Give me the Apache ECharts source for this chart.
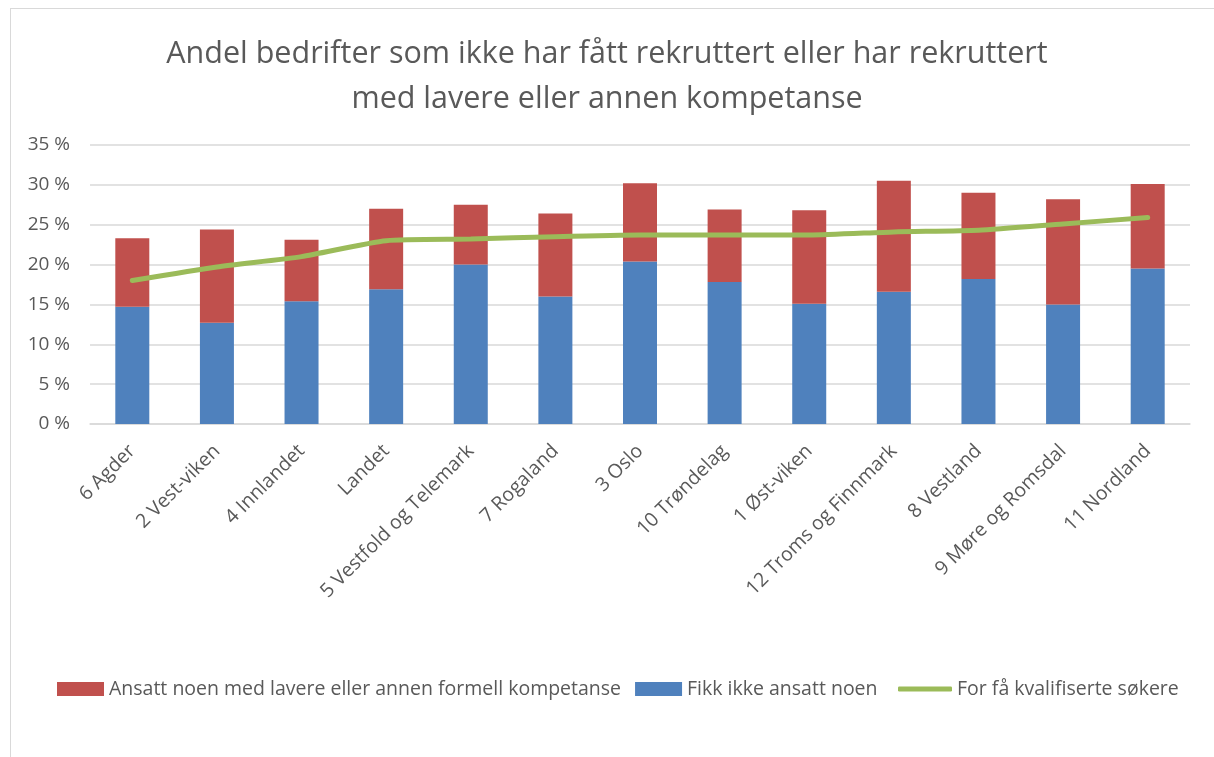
<!DOCTYPE html>
<html>
<head>
<meta charset="utf-8">
<script src="https://cdn.jsdelivr.net/npm/echarts@6/dist/echarts.min.js"></script>
<style>
  html, body { margin: 0; padding: 0; background: #fff; }
  #wrap { position: relative; width: 1214px; height: 757px; overflow: hidden; }
  #frame { position: absolute; left: 10px; top: 8px; width: 1230px; height: 780px;
           border: 1.5px solid #d9d9d9; pointer-events: none; }
  #chart { position: absolute; left: 0; top: 0; width: 1214px; height: 757px; }
</style>
</head>
<body>
<div id="wrap">
  <div id="chart"></div>
  <div id="frame"></div>
</div>
<script>
  const regions = ['6 Agder', '2 Vest-viken', '4 Innlandet', 'Landet', '5 Vestfold og Telemark',
    '7 Rogaland', '3 Oslo', '10 Trøndelag', '1 Øst-viken', '12 Troms og Finnmark',
    '8 Vestland', '9 Møre og Romsdal', '11 Nordland'];
  // andel i prosent
  const lavereKompetanse = [8.6, 11.7, 7.7, 10.1, 7.5, 10.4, 9.8, 9.1, 11.7, 13.9, 10.8, 13.2, 10.6];
  const ikkeAnsatt = [14.7, 12.7, 15.4, 16.9, 20.0, 16.0, 20.4, 17.8, 15.1, 16.6, 18.2, 15.0, 19.5];
  const forFaSokere = [18.0, 19.7, 21.0, 23.0, 23.2, 23.5, 23.7, 23.7, 23.7, 24.1, 24.3, 25.1, 25.9];

  const font = '"Open Sans", "Noto Sans", sans-serif';
  const grey = '#595959';
  const legendText = { fontSize: 19.5, color: grey, fontFamily: font };

  const myChart = echarts.init(document.getElementById('chart'));
  const option = {
    animation: false,
    textStyle: { fontFamily: font },
    title: {
      text: 'Andel bedrifter som ikke har fått rekruttert eller har rekruttert\nmed lavere eller annen kompetanse',
      left: 'center',
      top: 27,
      textStyle: { fontSize: 30.5, fontWeight: 'normal', color: grey, lineHeight: 45, fontFamily: font }
    },
    legend: [
      {
        left: 52,
        top: 674,
        itemGap: 14,
        itemWidth: 47,
        itemHeight: 14,
        textStyle: legendText,
        data: [
          { name: 'Ansatt noen med lavere eller annen formell kompetanse', icon: 'rect' },
          { name: 'Fikk ikke ansatt noen', icon: 'rect' }
        ]
      },
      {
        left: 893,
        top: 674,
        itemWidth: 54,
        itemHeight: 5,
        textStyle: legendText,
        data: [{ name: 'For få kvalifiserte søkere', icon: 'roundRect' }]
      }
    ],
    grid: { left: 90, right: 24, top: 145, bottom: 333 },
    xAxis: {
      type: 'category',
      data: regions,
      axisLine: { lineStyle: { color: '#d9d9d9', width: 1.5 } },
      axisTick: { show: false },
      axisLabel: { rotate: 45, fontSize: 19.5, color: grey, margin: 24, interval: 0 }
    },
    yAxis: {
      type: 'value',
      min: 0,
      max: 35,
      interval: 5,
      axisLine: { show: false },
      axisTick: { show: false },
      splitLine: { lineStyle: { color: '#d9d9d9', width: 1.5 } },
      axisLabel: { fontSize: 19, color: grey, margin: 20, formatter: v => v + ' %' }
    },
    series: [
      {
        name: 'Fikk ikke ansatt noen',
        type: 'bar',
        stack: 'andel',
        barWidth: 34,
        itemStyle: { color: '#4f81bd' },
        data: ikkeAnsatt
      },
      {
        name: 'Ansatt noen med lavere eller annen formell kompetanse',
        type: 'bar',
        stack: 'andel',
        barWidth: 34,
        itemStyle: { color: '#c0504d' },
        data: lavereKompetanse
      },
      {
        name: 'For få kvalifiserte søkere',
        type: 'line',
        smooth: 0.2,
        symbol: 'none',
        lineStyle: { color: '#9bbb59', width: 5, cap: 'round' },
        itemStyle: { color: '#9bbb59' },
        data: forFaSokere
      }
    ]
  };
  myChart.setOption(option);
</script>
</body>
</html>
